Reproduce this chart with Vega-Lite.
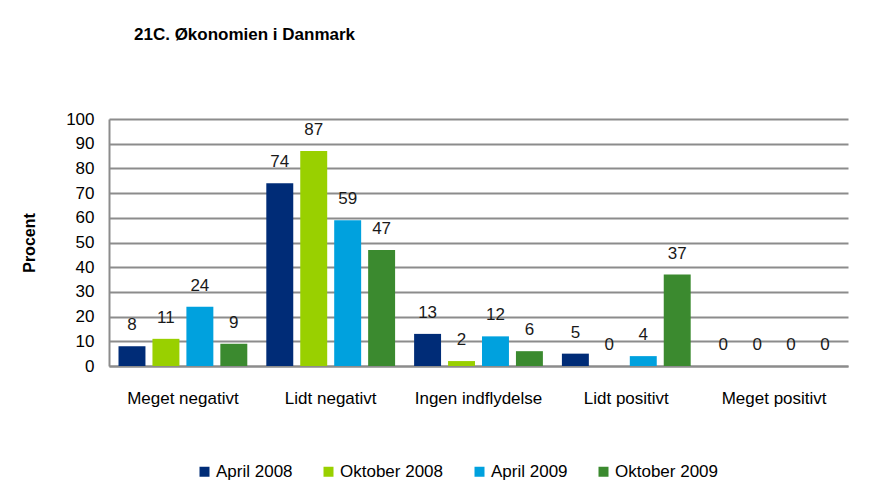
{
  "$schema": "https://vega.github.io/schema/vega-lite/v6.json",
  "autosize": "none",
  "width": 739,
  "height": 247,
  "padding": {"left": 109, "top": 119, "right": 33, "bottom": 137},
  "background": "white",
  "title": {
    "text": "21C. Økonomien i Danmark",
    "anchor": "start",
    "frame": "group",
    "dx": 25,
    "offset": 66,
    "font": "Liberation Sans",
    "fontSize": 17,
    "fontWeight": "bold",
    "color": "#000000"
  },
  "data": {
    "values": [
      {"kategori": "Meget negativt", "periode": "April 2008", "procent": 8},
      {"kategori": "Meget negativt", "periode": "Oktober 2008", "procent": 11},
      {"kategori": "Meget negativt", "periode": "April 2009", "procent": 24},
      {"kategori": "Meget negativt", "periode": "Oktober 2009", "procent": 9},
      {"kategori": "Lidt negativt", "periode": "April 2008", "procent": 74},
      {"kategori": "Lidt negativt", "periode": "Oktober 2008", "procent": 87},
      {"kategori": "Lidt negativt", "periode": "April 2009", "procent": 59},
      {"kategori": "Lidt negativt", "periode": "Oktober 2009", "procent": 47},
      {"kategori": "Ingen indflydelse", "periode": "April 2008", "procent": 13},
      {"kategori": "Ingen indflydelse", "periode": "Oktober 2008", "procent": 2},
      {"kategori": "Ingen indflydelse", "periode": "April 2009", "procent": 12},
      {"kategori": "Ingen indflydelse", "periode": "Oktober 2009", "procent": 6},
      {"kategori": "Lidt positivt", "periode": "April 2008", "procent": 5},
      {"kategori": "Lidt positivt", "periode": "Oktober 2008", "procent": 0},
      {"kategori": "Lidt positivt", "periode": "April 2009", "procent": 4},
      {"kategori": "Lidt positivt", "periode": "Oktober 2009", "procent": 37},
      {"kategori": "Meget positivt", "periode": "April 2008", "procent": 0},
      {"kategori": "Meget positivt", "periode": "Oktober 2008", "procent": 0},
      {"kategori": "Meget positivt", "periode": "April 2009", "procent": 0},
      {"kategori": "Meget positivt", "periode": "Oktober 2009", "procent": 0}
    ]
  },
  "encoding": {
    "x": {
      "field": "kategori",
      "type": "nominal",
      "sort": ["Meget negativt", "Lidt negativt", "Ingen indflydelse", "Lidt positivt", "Meget positivt"],
      "scale": {"paddingInner": 0, "paddingOuter": 0},
      "axis": {
        "title": null,
        "labelAngle": 0,
        "labelFont": "Liberation Sans",
        "labelFontSize": 17,
        "labelColor": "#000000",
        "labelPadding": 24,
        "ticks": false,
        "domainColor": "#8c8c8c",
        "domainWidth": 2,
        "grid": false
      }
    },
    "xOffset": {
      "field": "periode",
      "type": "nominal",
      "sort": ["April 2008", "Oktober 2008", "April 2009", "Oktober 2009"],
      "scale": {"paddingInner": 0.206, "paddingOuter": 0.28}
    },
    "y": {
      "field": "procent",
      "type": "quantitative",
      "scale": {"domain": [0, 100], "nice": false},
      "axis": {
        "title": "Procent",
        "titleFont": "Liberation Sans",
        "titleFontSize": 16,
        "titleFontWeight": "bold",
        "titleColor": "#000000",
        "titlePadding": 28,
        "values": [0, 10, 20, 30, 40, 50, 60, 70, 80, 90, 100],
        "labelFont": "Liberation Sans",
        "labelFontSize": 17,
        "labelColor": "#000000",
        "labelPadding": 15,
        "ticks": false,
        "domainColor": "#8c8c8c",
        "domainWidth": 2,
        "gridColor": "#8c8c8c",
        "gridWidth": 2
      }
    }
  },
  "layer": [
    {
      "mark": {"type": "bar"},
      "encoding": {
        "color": {
          "field": "periode",
          "type": "nominal",
          "sort": ["April 2008", "Oktober 2008", "April 2009", "Oktober 2009"],
          "scale": {
            "domain": ["April 2008", "Oktober 2008", "April 2009", "Oktober 2009"],
            "range": ["#002C77", "#99D000", "#00A1DE", "#3B8A2F"]
          },
          "legend": {
            "title": null,
            "orient": "none",
            "direction": "horizontal",
            "legendX": 87,
            "legendY": 344,
            "symbolType": "square",
            "symbolSize": 100,
            "symbolStrokeWidth": 0,
            "labelFont": "Liberation Sans",
            "labelFontSize": 17,
            "labelColor": "#000000",
            "labelOffset": 3,
            "columnPadding": 27
          }
        }
      }
    },
    {
      "mark": {
        "type": "text",
        "baseline": "bottom",
        "dy": -12,
        "font": "Liberation Sans",
        "fontSize": 17,
        "color": "#1a1a1a"
      },
      "encoding": {
        "text": {"field": "procent", "type": "quantitative"}
      }
    }
  ],
  "config": {
    "view": {"stroke": null}
  }
}
